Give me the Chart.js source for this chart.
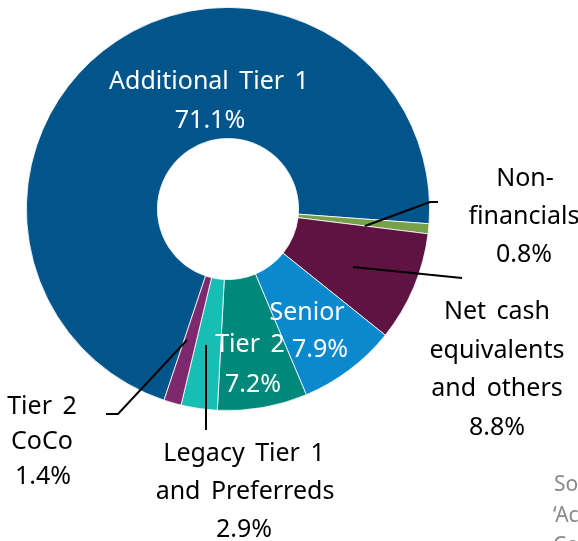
<!DOCTYPE html>
<html>
<head>
<meta charset="utf-8">
<script src="https://cdn.jsdelivr.net/npm/chart.js@4.4.1/dist/chart.umd.min.js"></script>
<style>
  html, body { margin: 0; padding: 0; background: #fff; }
  canvas { display: block; }
</style>
</head>
<body>
<canvas id="grafico-rosca" width="578" height="541"></canvas>
<script>
var categorias = ['Additional Tier 1', 'Non-financials', 'Net cash equivalents and others', 'Senior', 'Tier 2', 'Legacy Tier 1 and Preferreds', 'Tier 2 CoCo'];
var valores = [71.1, 0.8, 8.8, 7.9, 7.2, 2.9, 1.4];
var cores = ['#02558A', '#78A04A', '#5F1343', '#0A89CF', '#00897A', '#17BEB3', '#7E296D'];
// linhas de texto de cada rotulo (o percentual entra como ultima linha)
var rotulos = [
    ['Additional Tier 1'],
    ['Non-', 'financials'],
    ['Net cash', 'equivalents', 'and others'],
    ['Senior'],
    ['Tier 2'],
    ['Legacy Tier 1', 'and Preferreds'],
    ['Tier 2', 'CoCo']
];
var fonte = '"Noto Sans", "Open Sans", sans-serif';

// posicao dos rotulos em relacao ao centro da rosca
var posRotulos = [
    { dx: [-19, -18], dy: -127, lh: 39, cor: '#ffffff' },
    { dx: [297, 296, 296], dy: -30, lh: 38, cor: '#000000' },
    { dx: [269, 269, 269, 269], dy: 103, lh: 38.5, cor: '#000000' },
    { dx: [79, 92], dy: 104, lh: 37, cor: '#ffffff' },
    { dx: [22, 25], dy: 136, lh: 40, cor: '#ffffff' },
    { dx: [16, 17, 16], dy: 245, lh: 38, cor: '#000000' },
    { dx: [-186, -186, -185], dy: 198, lh: 35, cor: '#000000' }
];
// linhas de chamada (pontos relativos ao centro)
var chamadas = [
    [[210, -7], [202, -7], [137, 17]],
    [[125, 58], [234, 69]],
    [[-122, 205], [-110, 205], [-41, 131]],
    [[-22, 136], [-22, 221]]
];

var pluginRotulos = {
    id: 'rotulos',
    afterDatasetsDraw: function (chart) {
        var ctx = chart.ctx;
        var arco = chart.getDatasetMeta(0).data[0];
        var cx = arco.x, cy = arco.y;
        ctx.save();

        // chamadas
        ctx.strokeStyle = '#000000';
        ctx.lineWidth = 2;
        chamadas.forEach(function (pts) {
            ctx.beginPath();
            pts.forEach(function (p, i) {
                if (i === 0) ctx.moveTo(cx + p[0], cy + p[1]);
                else ctx.lineTo(cx + p[0], cy + p[1]);
            });
            ctx.stroke();
        });

        // textos
        ctx.font = '25px ' + fonte;
        ctx.wordSpacing = '4px';
        ctx.textAlign = 'center';
        ctx.textBaseline = 'middle';
        rotulos.forEach(function (linhas, i) {
            var p = posRotulos[i];
            var todas = linhas.concat([valores[i].toFixed(1) + '%']);
            ctx.fillStyle = p.cor;
            todas.forEach(function (t, j) {
                ctx.fillText(t, cx + p.dx[j], cy + p.dy + j * p.lh);
            });
        });

        // texto de fonte cortado no canto
        ctx.wordSpacing = '0px';
        ctx.font = '21px ' + fonte;
        ctx.fillStyle = '#8a8a8a';
        ctx.textAlign = 'left';
        ctx.fillText('So', 554, 485);
        ctx.fillText('\u2018Ac', 553, 516);
        ctx.fillText('Co', 553, 546);
        ctx.restore();
    }
};

var ctx = document.getElementById('grafico-rosca').getContext('2d');
var meuGrafico = new Chart(ctx, {
    type: 'doughnut',
    data: {
        labels: categorias,
        datasets: [{
            data: valores,
            backgroundColor: cores,
            borderColor: '#ffffff',
            borderWidth: 0.8
        }]
    },
    options: {
        responsive: false,
        animation: false,
        rotation: -161.5,
        cutout: '35%',
        layout: {
            padding: { left: 26, top: 7, right: 148, bottom: 130 }
        },
        plugins: {
            legend: { display: false },
            tooltip: { enabled: false }
        }
    },
    plugins: [pluginRotulos]
});
</script>
</body>
</html>
